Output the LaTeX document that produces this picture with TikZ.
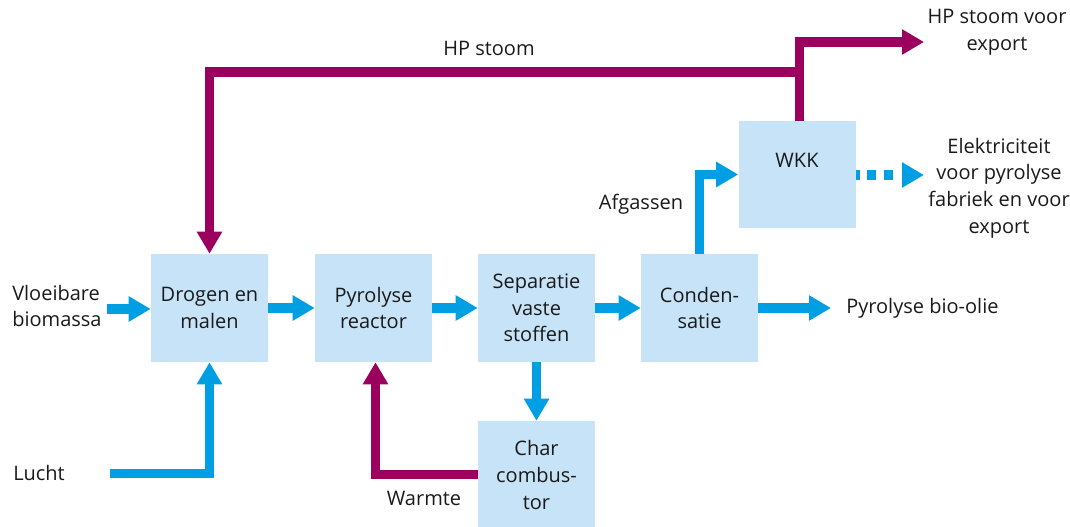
\documentclass[tikz,border=0pt]{standalone}
\usepackage{fontspec}
\setmainfont{Open Sans}
\usetikzlibrary{arrows.meta,calc}
\definecolor{boxblue}{HTML}{C7E3F8}
\definecolor{flowblue}{HTML}{009FE3}
\definecolor{heat}{HTML}{9C005F}
\definecolor{ink}{HTML}{1A1A1A}

\begin{document}
\begin{tikzpicture}[x=0.75pt,y=-0.75pt,
  font=\fontsize{15}{20}\selectfont, text=ink,
  unit/.style={fill=boxblue, minimum width=87.75pt, minimum height=81pt,
    align=center, inner sep=0pt},
  lbl/.style={align=center, inner sep=0pt},
  head/.style={-{Triangle[length=16.5pt,width=18pt]}},
  flow/.style={draw=flowblue, line width=7.1pt, head},
  steam/.style={draw=heat, line width=7.1pt, head},
  power/.style={flow, dash pattern=on 3pt off 5.3pt on 6.6pt off 6.6pt on 6.2pt off 30pt}]

\useasboundingbox (0,0) rectangle (1070,527);

% process units
\node[unit] (dry)  at (209.5,308) {Drogen en\\malen};
\node[unit] (reac) at (373.5,308) {Pyrolyse\\reactor};
\node[unit] (sep)  at (536.5,308) {Separatie\\vaste\\stoffen};
\node[unit] (cond) at (699.5,308) {Conden-\\satie};
\node[unit, minimum height=80.25pt] (wkk) at (797,174.5) {};
\node[lbl] (wkkt) at (797,160) {WKK};
\node[unit, minimum height=81pt] (char) at (536.5,475) {Char\\combus-\\tor};

% stream labels
\node[lbl, anchor=west, align=left] (bio) at (12,306) {Vloeibare\\biomassa};
\node[lbl, anchor=west] (lucht) at (13,473) {Lucht};
\node[lbl] (warmte) at (424,498) {Warmte};
\node[lbl] (afg) at (641,204) {Afgassen};
\node[lbl] (hp) at (489,48) {HP stoom};
\node[lbl] (hpx) at (997,32) {HP stoom voor\\export};
\node[lbl] (elec) at (999,188) {Elektriciteit\\voor pyrolyse\\fabriek en voor\\export};
\node[lbl, anchor=west] (oil) at (846,308) {Pyrolyse bio-olie};

% free ends of the streams
\coordinate (bioin) at (107,309);
\coordinate (luchtin) at (110,473.5);
\coordinate (hpjoin) at (799.5,72);
\coordinate (hpout) at (924,42);
\coordinate (elout) at (924,175);
\coordinate (oilout) at (831,308);

% main line
\draw[flow] (bioin) -- (bioin -| dry.west);
\draw[flow] (dry.east) -- (reac.west);
\draw[flow] (reac.east) -- (sep.west);
\draw[flow] (sep.east) -- (cond.west);
\draw[flow] (cond.east) -- (oilout);
\draw[flow] (sep.south) -- (char.north);
\draw[flow] (luchtin) -| (dry.south);
\draw[flow] (cond.north) |- (wkk.west);
\draw[power] (wkk.east |- elout) -- (elout);

% heat and steam
\draw[steam] (char.west |- 0,474.5) -| ($(reac.south)+(2,0)$);
\draw[steam] ($(wkk.north)+(2.5,0)$) |- (hpout);
\draw[steam] (hpjoin) -| (dry.north);
\end{tikzpicture}
\end{document}
